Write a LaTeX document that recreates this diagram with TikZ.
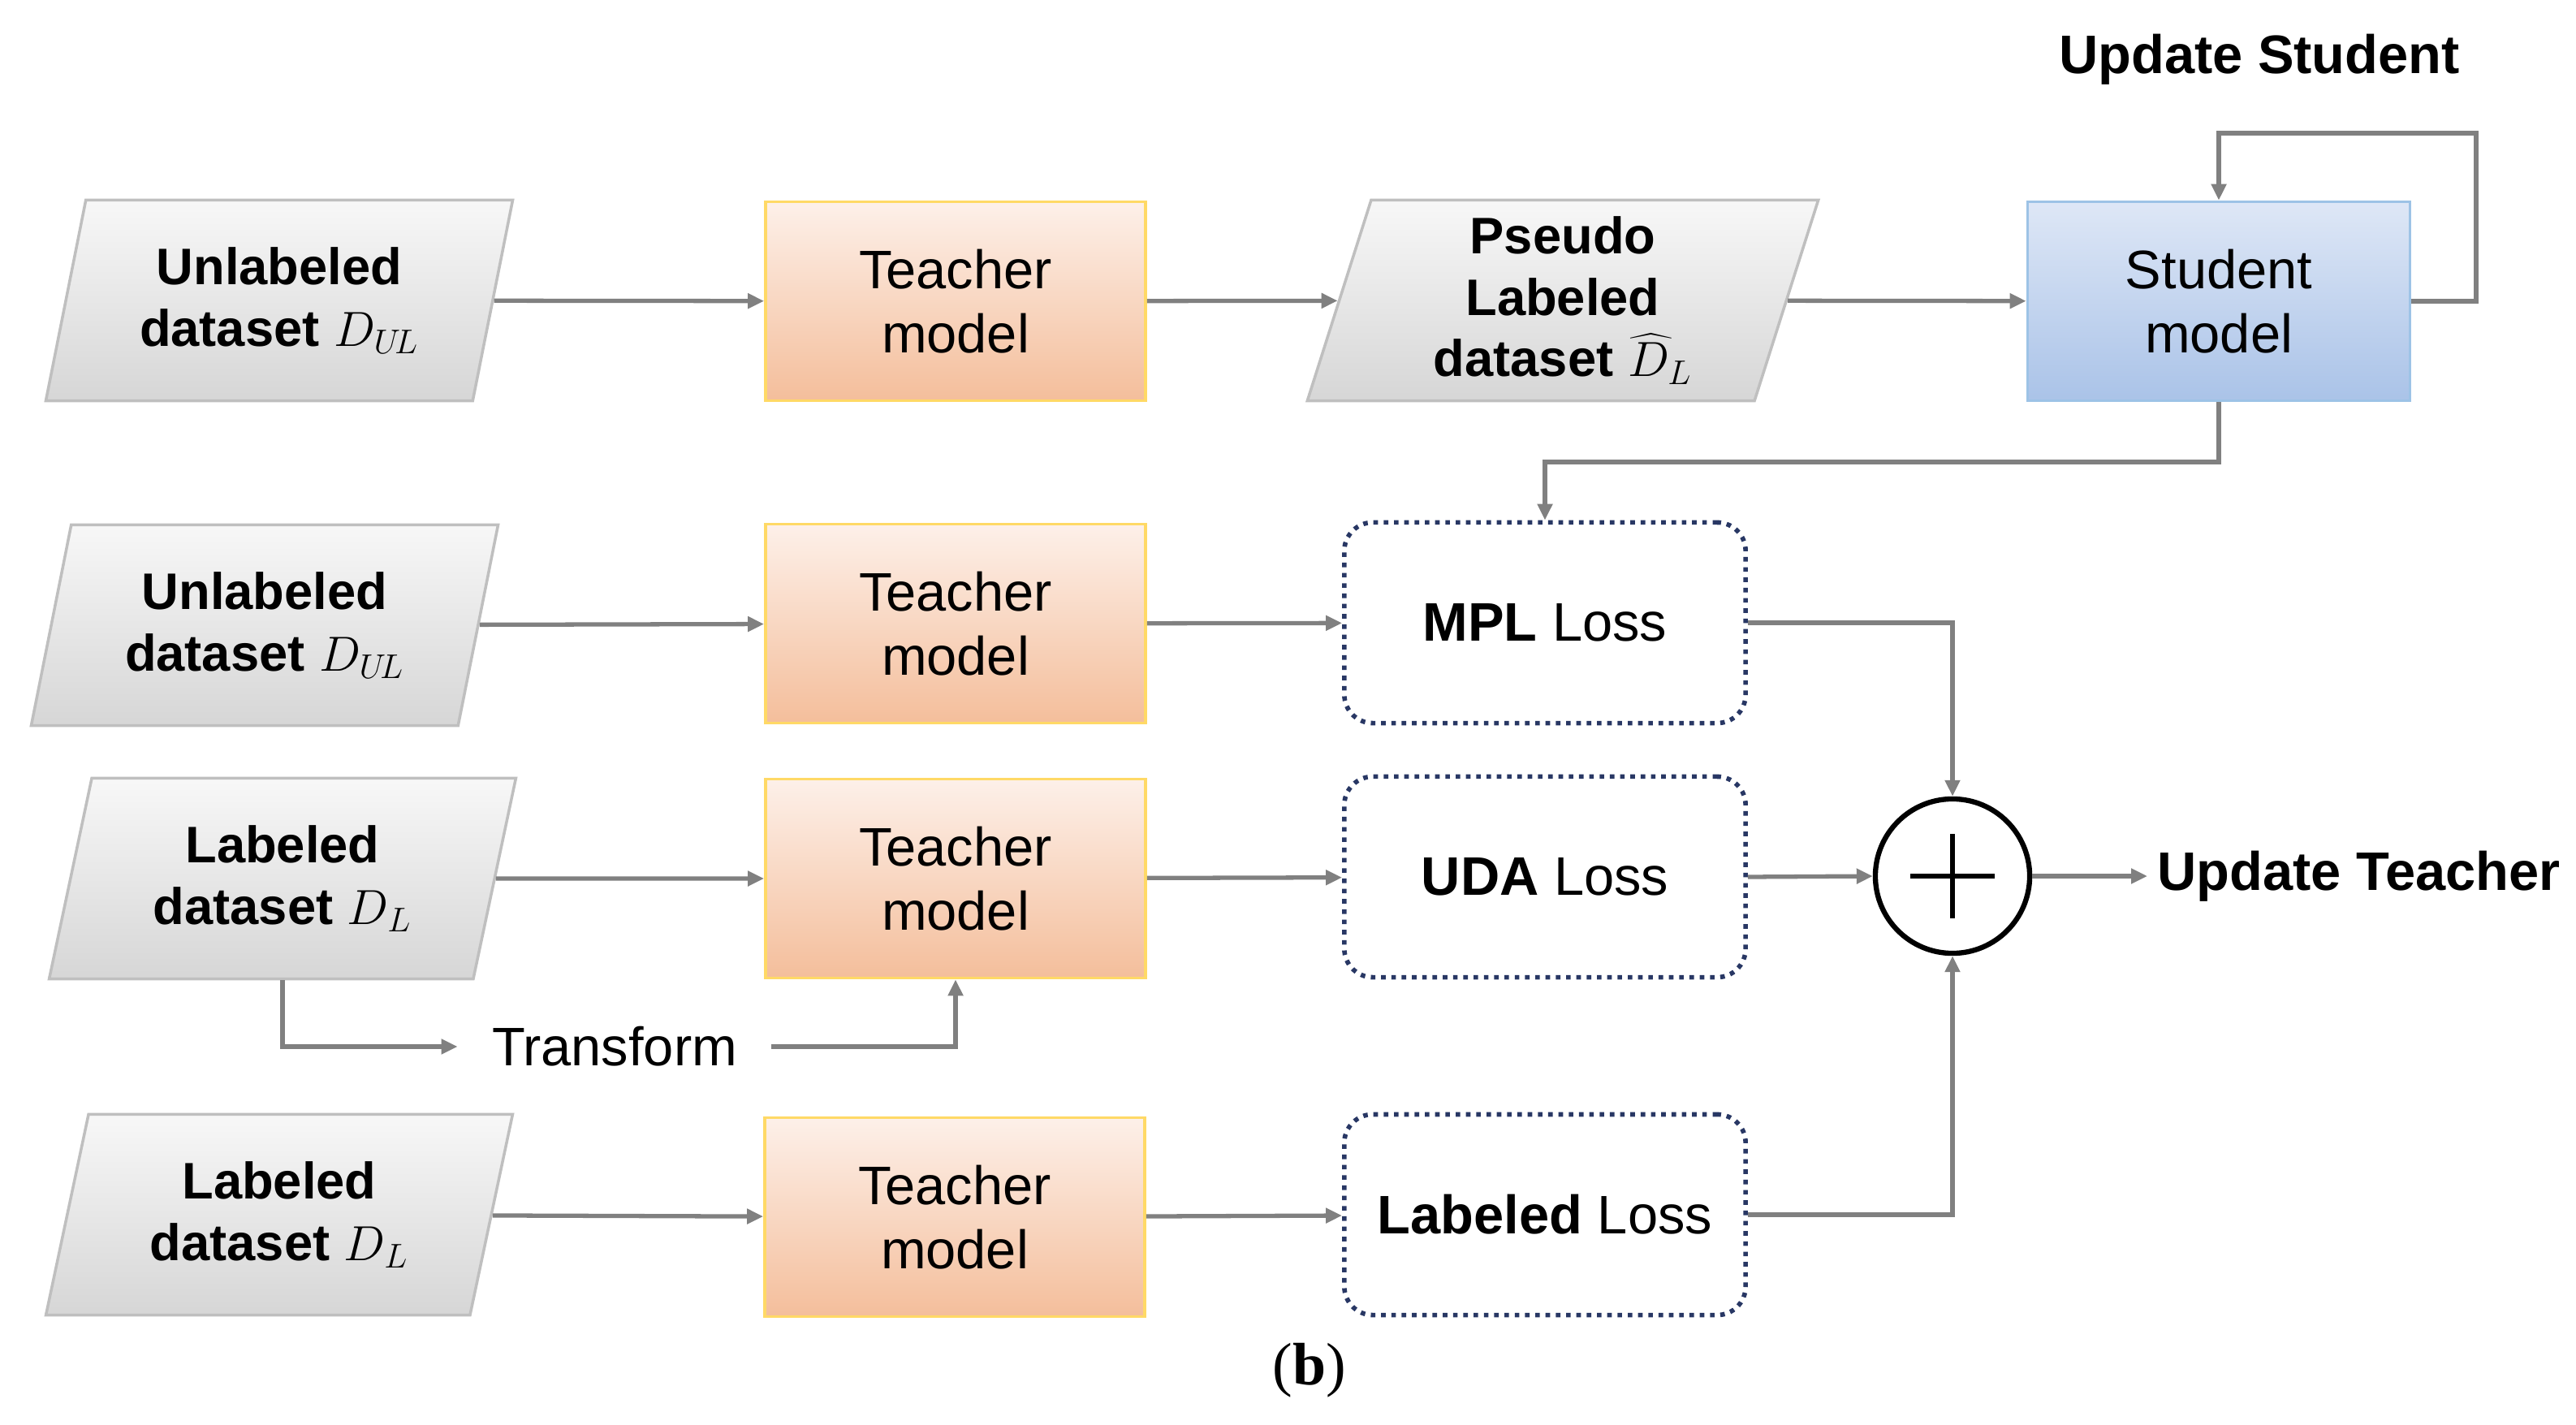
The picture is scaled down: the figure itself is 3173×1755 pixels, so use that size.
\documentclass[tikz,border=0pt]{standalone}
\usepackage{fontspec}
\setmainfont{Liberation Sans}
\newfontfamily\serifb{Liberation Serif}
\usetikzlibrary{shapes.geometric,arrows.meta,calc}
\definecolor{tchtop}{RGB}{253,240,233}
\definecolor{tchbot}{RGB}{244,190,155}
\definecolor{tchbd}{RGB}{255,217,102}
\definecolor{stutop}{RGB}{222,231,246}
\definecolor{stubot}{RGB}{170,195,232}
\definecolor{stubd}{RGB}{157,195,230}
\definecolor{lossbd}{RGB}{40,55,100}
\begin{document}
\begin{tikzpicture}[x=0.01cm,y=-0.01cm,
  font=\fontsize{19}{22.5}\selectfont,
  data/.style={trapezium,trapezium left angle=77,trapezium right angle=103,trapezium stretches=true,
    minimum width=5.75cm,minimum height=2.47cm,draw=black!25,line width=1pt,inner xsep=0pt,
    top color=black!3,bottom color=black!16,align=center,font=\fontsize{18}{21.5}\selectfont\bfseries},
  teacher/.style={rectangle,minimum width=4.68cm,minimum height=2.45cm,draw=tchbd,line width=1pt,
    top color=tchtop,bottom color=tchbot,align=center},
  student/.style={rectangle,minimum width=4.71cm,minimum height=2.45cm,draw=stubd,line width=1pt,
    top color=stutop,bottom color=stubot,align=center},
  loss/.style={rectangle,rounded corners=0.35cm,minimum width=4.94cm,minimum height=2.47cm,
    draw=lossbd,dotted,line width=1.6pt,align=center},
  conn/.style={draw=black!50,line width=1.5pt},
  arr/.style={conn,-{Triangle[length=0.2cm,width=0.18cm]}}
]
\useasboundingbox (0,0) rectangle (3173,1755);
% row 1
\node[data] (p1) at (344,370) {Unlabeled\\dataset $D_{U\!L}$};
\node[teacher] (t1) at (1177,371) {Teacher\\model};
\node[data,minimum width=6.3cm] (pl) at (1925,370) {Pseudo\\Labeled\\dataset $\widehat{D}_L$};
\node[student] (s) at (2733,371) {Student\\model};
\node[font=\fontsize{19}{22.5}\selectfont\bfseries] (us) at (2783,73) {Update Student};
% row 2
\node[data] (p2) at (326,770) {Unlabeled\\dataset $D_{U\!L}$};
\node[teacher] (t2) at (1177,768) {Teacher\\model};
\node[loss] (mpl) at (1903,767) {\textbf{MPL} Loss};
% row 3
\node[data] (p3) at (348,1082) {Labeled\\dataset $D_L$};
\node[teacher] (t3) at (1177,1082) {Teacher\\model};
\node[loss] (uda) at (1903,1080) {\textbf{UDA} Loss};
\node[circle,draw=black,line width=1.8pt,minimum size=1.9cm,inner sep=0pt] (sum) at (2405,1079) {};
\draw[line width=1.6pt] ($(sum.center)+(-52,0)$) -- ($(sum.center)+(52,0)$) ($(sum.center)+(0,-52)$) -- ($(sum.center)+(0,52)$);
\node[anchor=west,font=\fontsize{19}{22.5}\selectfont\bfseries] (ut) at (2645,1079) {Update Teacher};
\node (tr) at (757,1289) {Transform};
% row 4
\node[data] (p4) at (344,1496) {Labeled\\dataset $D_L$};
\node[teacher] (t4) at (1176,1499) {Teacher\\model};
\node[loss] (ll) at (1903,1496) {\textbf{Labeled} Loss};
\node[font=\serifb\fontsize{21}{24}\selectfont] (cap) at (1613,1688) {(\textbf{b})};
% connectors
\draw[arr] (p1) -- (t1);
\draw[arr] (t1) -- (pl);
\draw[arr] (pl) -- (s);
\coordinate (lr) at (3050,164);
\draw[arr] (s.east) -| (lr) -| (s.north);
\coordinate (sb) at (1903,569);
\draw[arr] (s.south) |- (sb) -- (mpl.north);
\draw[arr] (p2) -- (t2);
\draw[arr] (t2) -- (mpl);
\draw[arr] (p3) -- (t3);
\draw[arr] (t3) -- (uda);
\draw[arr] (p4) -- (t4);
\draw[arr] (t4) -- (ll);
\draw[arr] (mpl.east) -| (sum.north);
\draw[arr] (uda.east) -- (sum.west);
\draw[arr] (ll.east) -| (sum.south);
\draw[arr] (sum.east) -- (ut.west);
\draw[arr] (p3.south) |- ([xshift=-0.3cm]tr.west);
\draw[arr] ([xshift=0.3cm]tr.east) -| (t3.south);
\end{tikzpicture}
\end{document}
